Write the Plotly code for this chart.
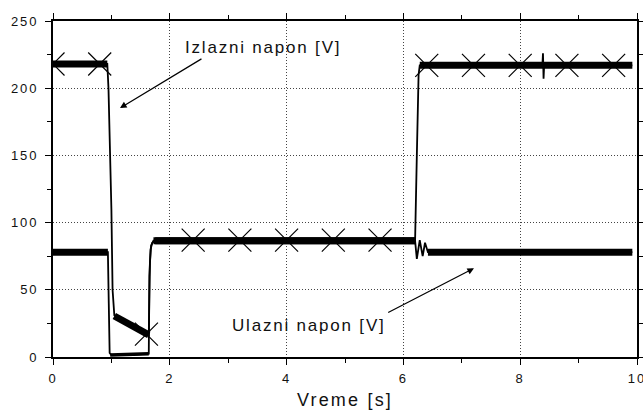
import plotly.graph_objects as go

# ---------------- data ----------------
# Izlazni napon (output voltage) - underlying trace
out_t = [0.0, 0.93, 0.95, 0.98, 1.00, 1.02, 1.05, 1.20, 1.40, 1.64, 1.66, 1.68, 1.72,
         6.20, 6.23, 6.26, 6.28, 8.38, 8.39, 8.40, 8.41, 9.92]
out_v = [218, 218, 200, 150, 110, 50, 31, 27, 22, 16.5, 70, 83, 86.5,
         86.5, 150, 210, 217, 217, 226, 207, 217, 217]
# noisy plateaus of the output voltage (drawn as a thick band)
out_band_t = [0.0, 0.93, None, 1.05, 1.20, 1.40, 1.64, None, 1.72, 6.20, None, 6.28, 9.92]
out_band_v = [218, 218, None, 30.5, 27, 22, 16.5, None, 86.5, 86.5, None, 217, 217]

# Ulazni napon (input voltage) - underlying trace
in_t = [0.0, 0.94, 0.955, 0.97, 1.00, 1.30, 1.64, 1.65, 1.67, 1.70, 1.75,
        6.20, 6.23, 6.28, 6.33, 6.37, 6.42, 9.92]
in_v = [78, 78, 40, 3, 1.5, 1.5, 2.5, 60, 80, 85, 86.5,
        86.5, 73, 87, 75, 85, 78, 78]
# noisy plateaus of the input voltage
in_band_t = [0.0, 0.94, None, 1.75, 6.20, None, 6.42, 9.92]
in_band_v = [78, 78, None, 86.5, 86.5, None, 78, 78]
in_low_t = [0.98, 1.64]
in_low_v = [1.5, 2.5]

# symbol markers on the output curve
mark_t = [0.0, 0.8, 1.6, 2.4, 3.2, 4.0, 4.8, 5.6, 6.4, 7.2, 8.0, 8.8, 9.6]
mark_v = [218, 218, 17, 87, 87, 87, 87, 87, 217, 217, 217, 217, 217]

x_tick_vals = [0, 2, 4, 6, 8, 10]
x_tick_labels = ["0", "2", "4", "6", "8", "10"]
y_tick_vals = [0, 50, 100, 150, 200, 250]
y_tick_labels = ["0", "50", "100", "150", "200", "250"]

x_title = "Vreme [s]"
label_out = "Izlazni napon [V]"
label_in = "Ulazni napon [V]"

# ---------------- figure ----------------
FONT = "Liberation Sans, Arial, sans-serif"
INK = "#111111"


def spaced(txt, px):
    return '<span style="letter-spacing:%spx">%s</span>' % (px, txt)


fig = go.Figure()

fig.add_trace(go.Scatter(x=in_t, y=in_v, mode="lines",
                         line=dict(color="black", width=1.8), showlegend=False,
                         name=label_in))
fig.add_trace(go.Scatter(x=in_band_t, y=in_band_v, mode="lines",
                         line=dict(color="black", width=7), showlegend=False,
                         name=label_in, connectgaps=False))
fig.add_trace(go.Scatter(x=in_low_t, y=in_low_v, mode="lines",
                         line=dict(color="black", width=3.5), showlegend=False,
                         name=label_in))
fig.add_trace(go.Scatter(x=out_t, y=out_v, mode="lines",
                         line=dict(color="black", width=1.8), showlegend=False,
                         name=label_out))
fig.add_trace(go.Scatter(x=out_band_t, y=out_band_v, mode="lines",
                         line=dict(color="black", width=7), showlegend=False,
                         name=label_out, connectgaps=False))
fig.add_trace(go.Scatter(x=mark_t, y=mark_v, mode="markers",
                         marker=dict(symbol="x-thin-open", size=23, color="black",
                                     line=dict(color="black", width=1.2)),
                         showlegend=False, name=label_out))

axis_common = dict(
    showline=True, linecolor="black", linewidth=1.6, mirror="ticks",
    ticks="outside", ticklen=6, tickwidth=1.2, tickcolor="black",
    showgrid=True, gridcolor="#444444", gridwidth=1, griddash="1px,2px",
    zeroline=False, automargin=False, ticklabeloverflow="allow",
    tickfont=dict(family=FONT, size=13, color=INK),
)

fig.update_xaxes(
    range=[0, 10], tickmode="array", tickvals=x_tick_vals,
    ticktext=[spaced(t, 2) for t in x_tick_labels],
    minor=dict(dtick=1, ticks="outside", ticklen=4, tickwidth=1.2,
               tickcolor="black", showgrid=False),
    ticklabelstandoff=3,
    title=dict(text=spaced(x_title, 2.2), font=dict(family=FONT, size=18, color=INK),
               standoff=8),
    **axis_common,
)
fig.update_yaxes(
    range=[0, 250], tickmode="array", tickvals=y_tick_vals,
    ticktext=[spaced(t, 2) for t in y_tick_labels],
    minor=dict(dtick=25, ticks="outside", ticklen=4, tickwidth=1.2,
               tickcolor="black", showgrid=False),
    ticklabelstandoff=4,
    **axis_common,
)

fig.add_annotation(x=2.226, y=230.3, xref="x", yref="y", text=spaced(label_out, 1.8),
                   showarrow=False, xanchor="left", yanchor="middle",
                   font=dict(family=FONT, size=17, color=INK))
fig.add_annotation(x=3.03, y=23.1, xref="x", yref="y", text=spaced(label_in, 1.8),
                   showarrow=False, xanchor="left", yanchor="middle",
                   font=dict(family=FONT, size=17, color=INK))

# arrows
fig.add_annotation(x=1.147, y=185.2, ax=2.568, ay=222.5, xref="x", yref="y",
                   axref="x", ayref="y", text="", showarrow=True,
                   arrowhead=2, arrowsize=1.1, arrowwidth=1.2, arrowcolor="black")
fig.add_annotation(x=7.209, y=66.0, ax=5.714, ay=32.5, xref="x", yref="y",
                   axref="x", ayref="y", text="", showarrow=True,
                   arrowhead=2, arrowsize=1.1, arrowwidth=1.2, arrowcolor="black")

fig.update_layout(
    width=643, height=412,
    margin=dict(l=53, r=6, t=21, b=55, pad=0, autoexpand=False),
    plot_bgcolor="white", paper_bgcolor="white",
    font=dict(family=FONT, color=INK),
    showlegend=False,
)

fig.write_html("out.html")
